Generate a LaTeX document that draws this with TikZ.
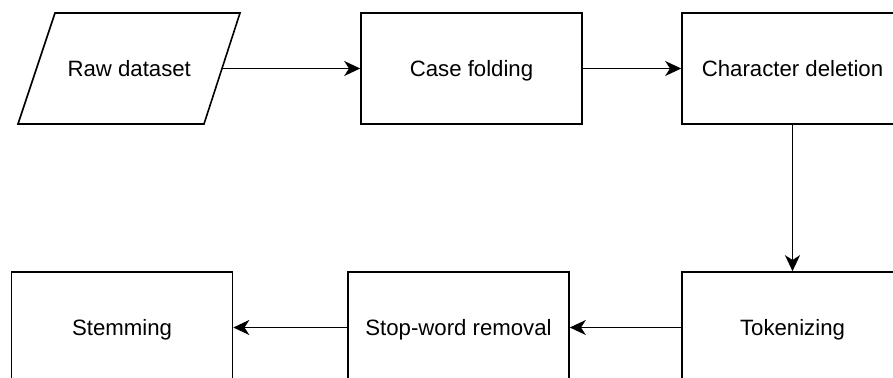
\documentclass[tikz,border=0pt]{standalone}
\usepackage{fontspec}
\setmainfont{Liberation Sans}
\usetikzlibrary{arrows.meta}
\begin{document}
\begin{tikzpicture}[x=0.5pt,y=-0.5pt,
  every node/.style={font=\fontsize{11.1}{13}\selectfont, inner sep=0pt, text height=10.05pt, text depth=2.35pt},
  procbox/.style={draw, line width=0.8pt, minimum width=110.5pt, minimum height=55.5pt},
  iobox/.style={minimum width=92.75pt, minimum height=55.5pt},
  flow/.style={line width=0.8pt, -{Stealth[length=8pt,width=7.5pt,inset=2.4pt]}}]
\useasboundingbox (0,0) rectangle (893,378);
\begin{scope}
\clip (0,0) rectangle (893,378);
% parallelogram
\draw[line width=0.8pt] (55,13) -- (240,13) -- (204,124) -- (18,124) -- cycle;
\node[iobox] (raw) at (129.25,68.5) {Raw dataset};
\node[procbox] (case) at (471.5,68.5) {Case folding};
\node[procbox] (chr) at (792.5,68.5) {Character deletion};
\node[procbox] (tok) at (792.5,327.5) {Tokenizing};
\node[procbox] (stop) at (458.5,327.5) {Stop-word removal};
\node[procbox] (stem) at (122,327.5) {Stemming};
\draw[flow] (raw.east) -- (case.west);
\draw[flow] (case.east) -- (chr.west);
\draw[flow] (chr.south) -- (tok.north);
\draw[flow] (tok.west) -- (stop.east);
\draw[flow] (stop.west) -- (stem.east);
\end{scope}
\end{tikzpicture}
\end{document}
